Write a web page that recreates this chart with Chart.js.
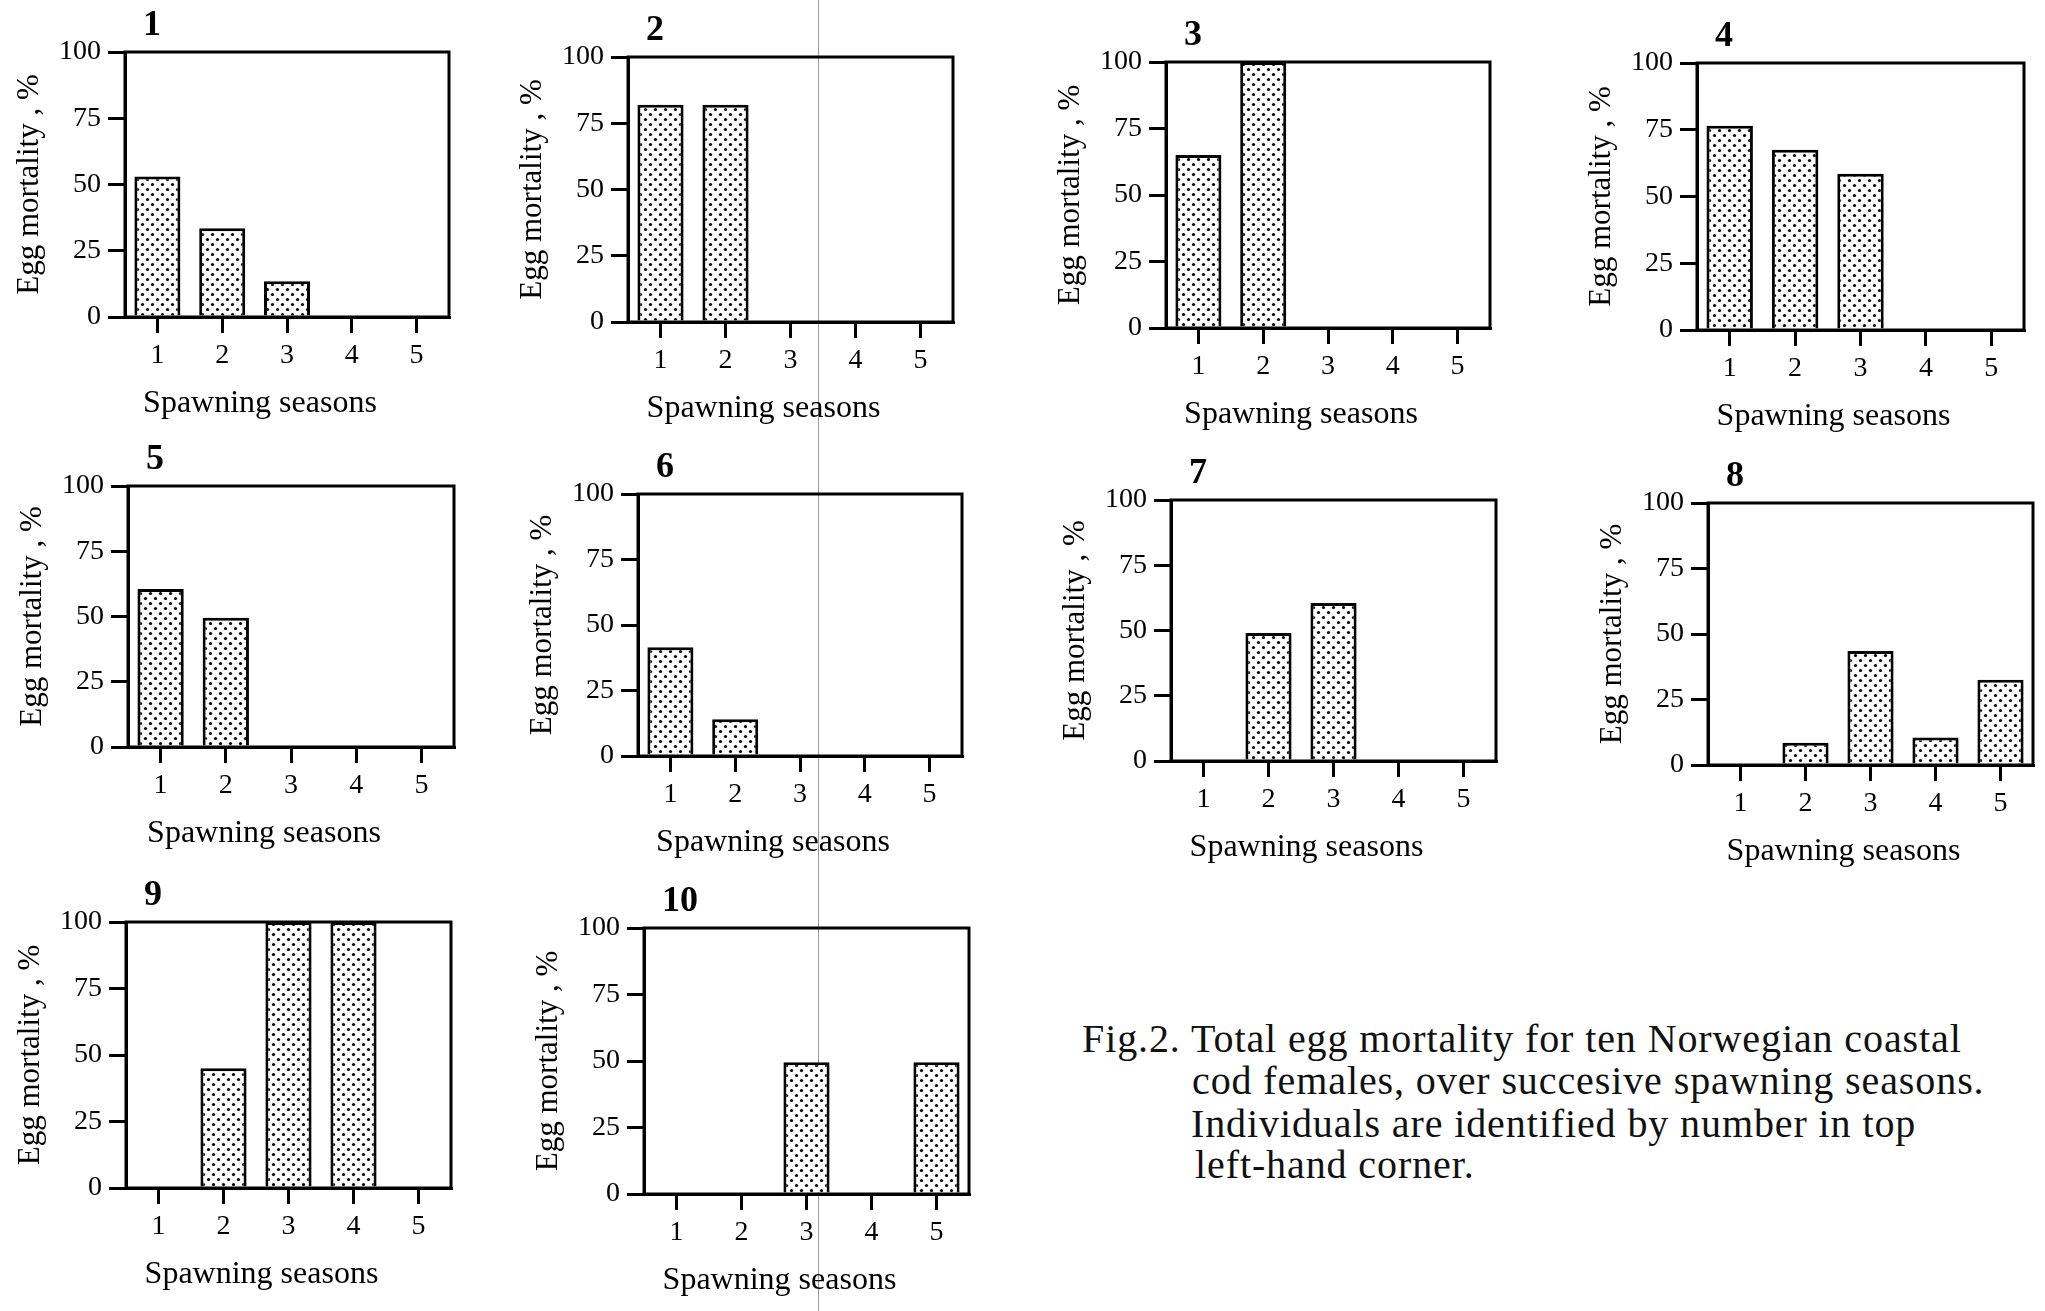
<!DOCTYPE html>
<html>
<head>
<meta charset="utf-8">
<script src="https://cdn.jsdelivr.net/npm/chart.js@4.4.1/dist/chart.umd.min.js"></script>
<style>
  html, body { margin: 0; padding: 0; background: #fff; }
  #page { position: relative; width: 2045px; height: 1311px; overflow: hidden; background: #fff; }
  #page canvas { position: absolute; }
  .cap { position: absolute; font-family: "Liberation Serif", serif; font-size: 40px; line-height: 40px;
         letter-spacing: 0.9px; color: #111; white-space: nowrap; }
  #fold { position: absolute; left: 818px; top: 0; width: 1px; height: 1311px; background: #9a9a9a; }
</style>
</head>
<body>
<div id="page">
  <div id="fold"></div>
  <div class="cap" style="left:1082px; top:1019px;">Fig.2. Total egg mortality for ten Norwegian coastal</div>
  <div class="cap" style="left:1192px; top:1061px;">cod females, over succesive spawning seasons.</div>
  <div class="cap" style="left:1191px; top:1104px;">Individuals are identified by number in top</div>
  <div class="cap" style="left:1195px; top:1145px;">left-hand corner.</div>
</div>
<script>
// spawning seasons on the x axis, egg mortality (%) per female
const seasons = ['1', '2', '3', '4', '5'];
const yTicks = [0, 25, 50, 75, 100];

const female1 = [53, 33.5, 13.5, null, null];
const female2 = [82, 82, null, null, null];
const female3 = [65, 100, null, null, null];
const female4 = [76.5, 67.5, 58.5, null, null];
const female5 = [60.5, 49.5, null, null, null];
const female6 = [41.5, 14, null, null, null];
const female7 = [null, 49, 60.5, null, null];
const female8 = [null, 8.5, 43.5, 10.5, 32.5];
const female9 = [null, 45, 100, 100, null];
const female10 = [null, null, 49.5, null, 49.5];

const females = [female1, female2, female3, female4, female5,
                 female6, female7, female8, female9, female10];
const panelLabels = ['1', '2', '3', '4', '5', '6', '7', '8', '9', '10'];

// plot box of each panel on the page: left, top, width, height
const boxes = [
  [125, 52, 324, 265], [628, 57, 325, 265], [1166, 62, 324, 266], [1697, 63, 327, 267],
  [128, 486, 326, 261], [638, 494, 324, 262], [1171, 500, 325, 261], [1708, 503, 325, 262],
  [126, 922, 325, 266], [644, 928, 325, 266]
];

const PAD_L = 125, PAD_T = 60, PAD_R = 12, PAD_B = 115;
const SERIF = '"Liberation Serif", "Times New Roman", serif';

function dotPattern(ctx) {
  const c = document.createElement('canvas');
  c.width = 10; c.height = 10;
  const g = c.getContext('2d');
  g.fillStyle = '#fff';
  g.fillRect(0, 0, 10, 10);
  g.fillStyle = '#000';
  [[2.5, 2.5], [7.5, 7.5]].forEach(([x, y]) => {
    g.beginPath();
    g.arc(x, y, 1.6, 0, Math.PI * 2);
    g.fill();
  });
  return ctx.createPattern(c, 'repeat');
}

// frame round the plot area, panel number and x title (set a bit left of centre, as in the print)
const boxPlugin = {
  id: 'box',
  afterDraw(chart, args, opts) {
    const { ctx, chartArea: a } = chart;
    ctx.save();
    ctx.strokeStyle = '#000';
    ctx.lineWidth = 3;
    ctx.strokeRect(a.left, a.top, a.right - a.left, a.bottom - a.top);
    ctx.fillStyle = '#000';
    ctx.textBaseline = 'middle';
    ctx.font = 'bold 36px ' + SERIF;
    ctx.textAlign = 'left';
    ctx.fillText(opts.label, a.left + 18, a.top - 26);
    ctx.font = '32px ' + SERIF;
    ctx.textAlign = 'center';
    ctx.fillText(opts.xTitle, (a.left + a.right) / 2 - 27, a.bottom + 87);
    ctx.restore();
  }
};

const page = document.getElementById('page');

females.forEach((vals, i) => {
  const [bx, by, bw, bh] = boxes[i];
  const cv = document.createElement('canvas');
  cv.width = PAD_L + bw + PAD_R;
  cv.height = PAD_T + bh + PAD_B;
  cv.style.left = (bx - PAD_L) + 'px';
  cv.style.top = (by - PAD_T) + 'px';
  page.appendChild(cv);
  const ctx = cv.getContext('2d');

  new Chart(ctx, {
    type: 'bar',
    data: {
      labels: seasons,
      datasets: [{
        data: vals,
        backgroundColor: dotPattern(ctx),
        borderColor: '#000',
        borderWidth: 3,
        borderSkipped: 'start',
        barPercentage: 0.71,
        categoryPercentage: 1
      }]
    },
    options: {
      responsive: false,
      animation: false,
      devicePixelRatio: 1,
      layout: { padding: { left: 0, top: PAD_T, right: PAD_R, bottom: 0 } },
      plugins: {
        legend: { display: false },
        tooltip: { enabled: false },
        box: { label: panelLabels[i], xTitle: 'Spawning seasons' }
      },
      scales: {
        x: {
          grid: { display: true, drawOnChartArea: false, drawTicks: true, tickLength: 16,
                  offset: false, color: '#000', lineWidth: 3 },
          border: { display: true, color: '#000', width: 3 },
          ticks: { color: '#000', font: { family: SERIF, size: 28 }, padding: 6, maxRotation: 0 },
          afterFit(s) { s.height = PAD_B; }
        },
        y: {
          min: 0,
          max: 100,
          afterBuildTicks(s) { s.ticks = yTicks.map(v => ({ value: v })); },
          grid: { display: true, drawOnChartArea: false, drawTicks: true, tickLength: 17,
                  color: '#000', lineWidth: 3 },
          border: { display: true, color: '#000', width: 3 },
          ticks: { color: '#000', font: { family: SERIF, size: 28 }, padding: 7 },
          title: { display: true, text: 'Egg mortality , %', color: '#000',
                   font: { family: SERIF, size: 31 }, padding: { top: 11, bottom: 0 } },
          afterFit(s) { s.width = PAD_L; }
        }
      }
    },
    plugins: [boxPlugin]
  });
});
</script>
</body>
</html>
